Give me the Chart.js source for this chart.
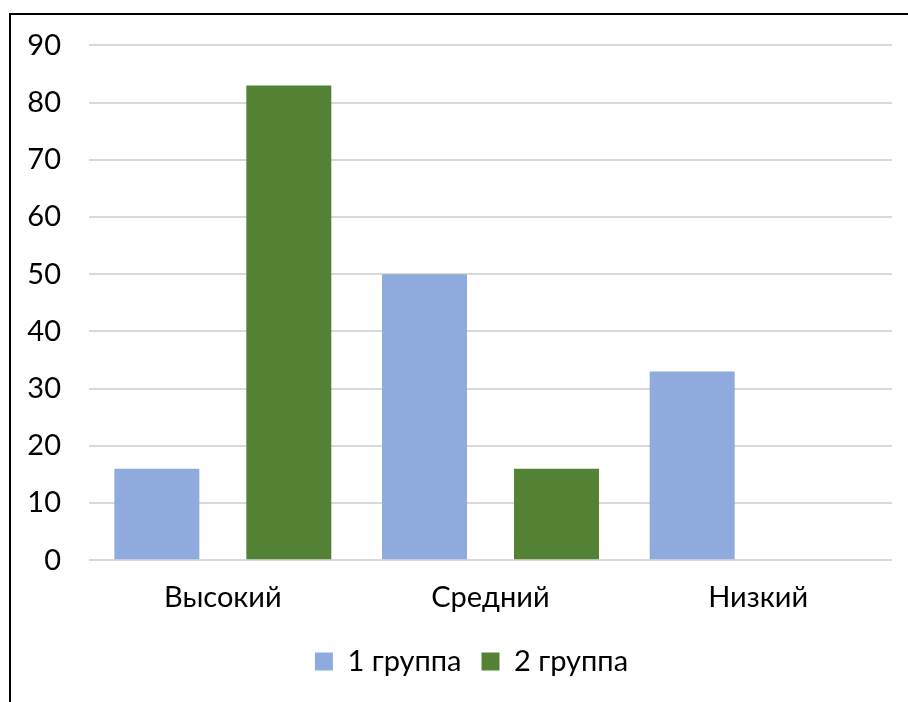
<!DOCTYPE html>
<html>
<head>
<meta charset="utf-8">
<script src="https://cdn.jsdelivr.net/npm/chart.js@4"></script>
<style>
  body { margin: 0; background: #fff; }
  #myChart { position: absolute; left: 11px; top: 0; display: block; }
  #frame {
    position: absolute; left: 9px; top: 13px;
    width: 899px; height: 689px;
    border-left: 2px solid #000; border-top: 2px solid #000;
    pointer-events: none;
  }
</style>
</head>
<body>
<canvas id="myChart" width="897" height="702"></canvas>
<div id="frame"></div>
<script>
// categories and values
const levels = ['Высокий', 'Средний', 'Низкий'];
const group1 = [16, 50, 33];
const group2 = [83, 16, 0];
const seriesNames = ['1 группа', '2 группа'];
const yTicks = [0, 10, 20, 30, 40, 50, 60, 70, 80, 90];

const font = { family: 'Lato, "Open Sans", sans-serif', size: 29 };

// legend in the original sits a bit right of centre
const nudgeLegend = {
  id: 'nudgeLegend',
  afterLayout(chart) {
    chart.legend.left += 20;
    chart.legend.right += 20;
  }
};

var ctx = document.querySelector('#myChart').getContext('2d');
var chart = new Chart(ctx, {
  type: 'bar',
  data: {
    labels: levels,
    datasets: [{
      label: seriesNames[0],
      backgroundColor: '#8FAADC',
      data: group1
    }, {
      label: seriesNames[1],
      backgroundColor: '#548235',
      data: group2
    }]
  },
  options: {
    responsive: false,
    animation: false,
    categoryPercentage: 0.986,
    barPercentage: 0.644,
    layout: { padding: { left: 0, right: 16, top: 0, bottom: 16 } },
    plugins: {
      tooltip: { enabled: false },
      legend: {
        position: 'bottom',
        labels: {
          color: '#000',
          font: font,
          boxWidth: 18,
          boxHeight: 18,
          padding: 20
        }
      }
    },
    scales: {
      x: {
        grid: { display: false },
        border: { display: false },
        ticks: { color: '#000', font: font, padding: 12 }
      },
      y: {
        min: 0,
        max: 90,
        afterBuildTicks: (axis) => { axis.ticks = yTicks.map(v => ({ value: v })); },
        afterFit: (axis) => { axis.width = 78; },
        grid: { color: '#D9D9D9', lineWidth: 2, drawTicks: false },
        border: { display: false },
        ticks: { color: '#000', font: font, padding: 28 }
      }
    }
  },
  plugins: [nudgeLegend]
});
</script>
</body>
</html>
